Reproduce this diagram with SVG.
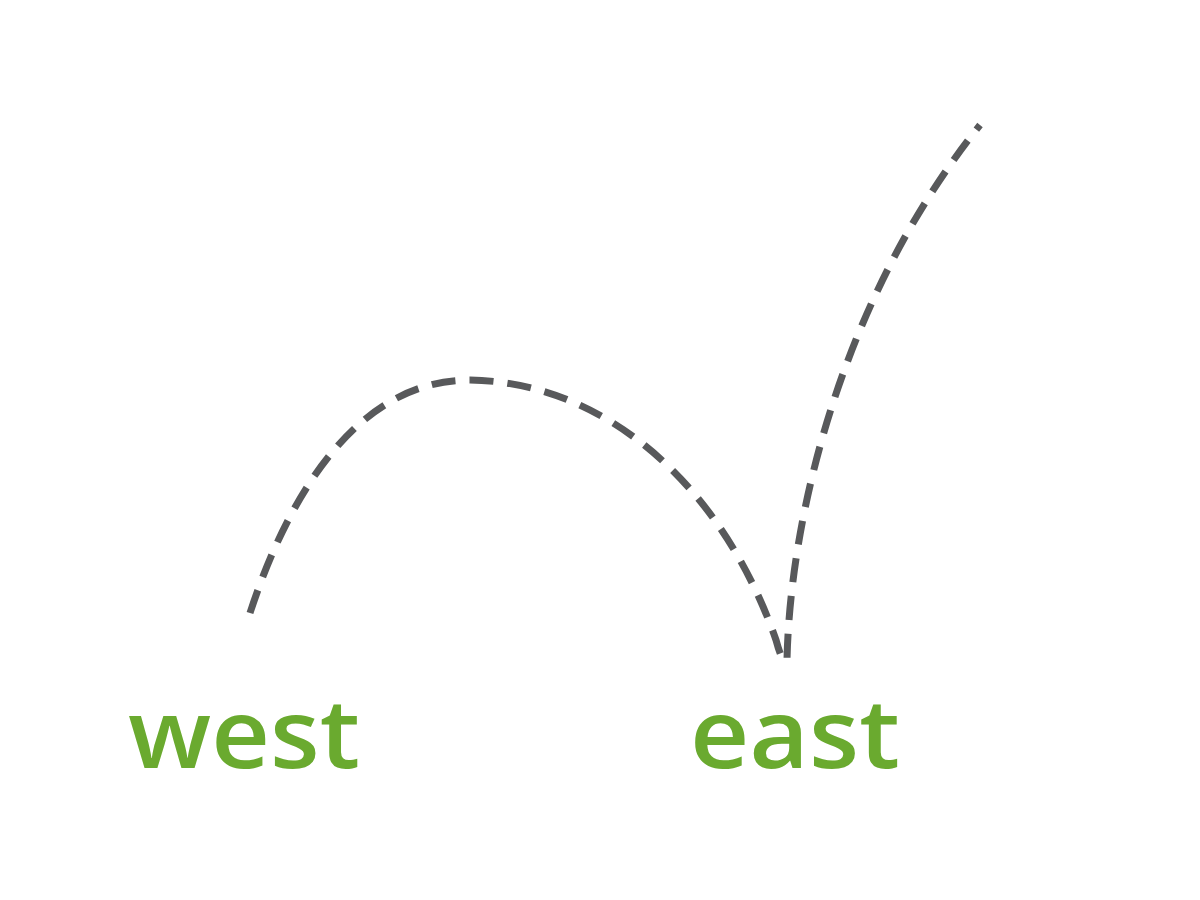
<svg xmlns="http://www.w3.org/2000/svg" width="1200" height="900" viewBox="0 0 1200 900">
<style>
.lbl{font-family:"Open Sans","Liberation Sans",sans-serif;font-size:96px;font-weight:600;fill:#6aaa2f}
.path{fill:none;stroke:#58595b;stroke-width:7;stroke-dasharray:24 14;stroke-linejoin:round}
</style>
<rect width="1200" height="900" fill="#ffffff"/>
<g id="connectors">
<path class="path" d="M250,613 C290,490 360,380 470,380 C605,382 722,485 776,640 Q783,666 787,660 C790,520 840,300 980,125"/>
</g>
<g id="node-west">
<text class="lbl" x="128" y="768" textLength="232" lengthAdjust="spacingAndGlyphs">west</text>
</g>
<g id="node-east">
<text class="lbl" x="690" y="768" textLength="210" lengthAdjust="spacingAndGlyphs">east</text>
</g>
</svg>
